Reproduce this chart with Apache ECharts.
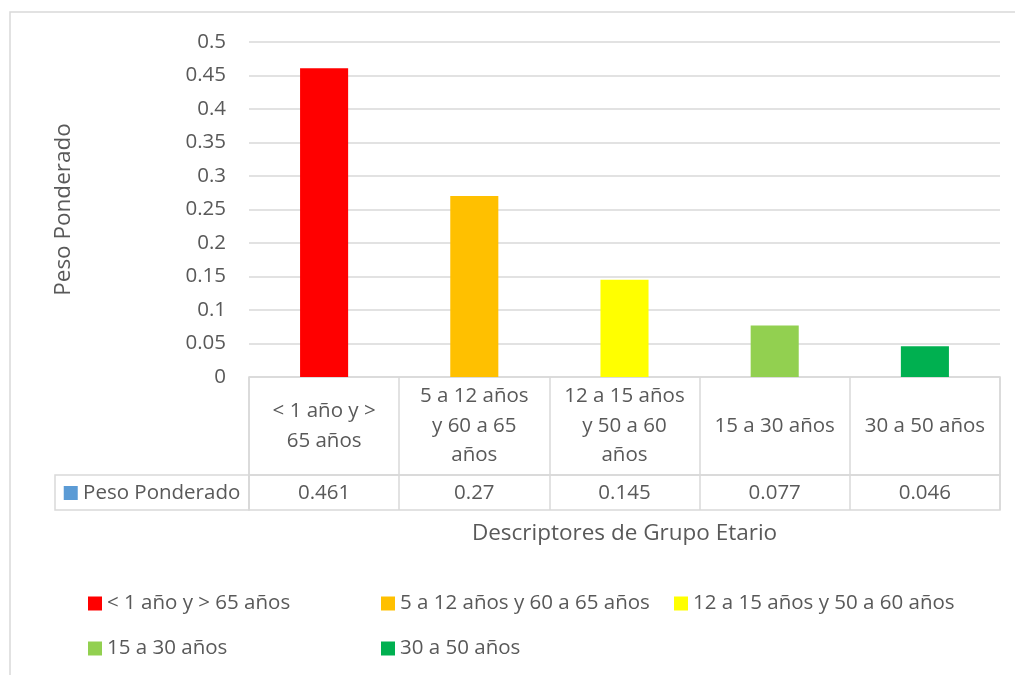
<!DOCTYPE html>
<html>
<head>
<meta charset="utf-8">
<script src="https://cdn.jsdelivr.net/npm/echarts@6/dist/echarts.min.js"></script>
<style>
  html, body { margin: 0; padding: 0; background: #fff; }
  #chart { width: 1015px; height: 675px; }
</style>
</head>
<body>
<div id="chart"></div>
<script>
// datos del grafico
const categorias = ['< 1 año y > 65 años', '5 a 12 años y 60 a 65 años', '12 a 15 años y 50 a 60 años', '15 a 30 años', '30 a 50 años']
const etiquetasTabla = ['< 1 año y >\n65 años', '5 a 12 años\ny 60 a 65\naños', '12 a 15 años\ny 50 a 60\naños', '15 a 30 años', '30 a 50 años']
const pesos = [0.461, 0.27, 0.145, 0.077, 0.046]
const colores = ['#FF0000', '#FFC000', '#FFFF00', '#92D050', '#00B050']
const nombreSerie = 'Peso Ponderado'

const fuente = 'Open Sans'
const gris = '#595959'
const linea = '#d9d9d9'
const tam = 20.5
const tamTitulo = 22.5

const myChart = echarts.init(document.getElementById('chart'))

// una serie por categoria, apiladas, para que la leyenda muestre cada color
const series = categorias.map((nombre, i) => ({
  name: nombre,
  type: 'bar',
  stack: 'total',
  barWidth: '32%',
  itemStyle: { color: colores[i] },
  data: pesos.map((v, j) => (j === i ? v : '-'))
}))

const option = {
  animation: false,
  textStyle: { fontFamily: fuente },
  grid: [
    { left: 249, right: 15, top: 42, bottom: 298 },
    { left: 249, right: 15, top: 377, height: 98, show: true, borderColor: linea, borderWidth: 1.5 },
    { left: 249, right: 15, top: 475, height: 35, show: true, borderColor: linea, borderWidth: 1.5 },
    { left: 55, width: 194, top: 475, height: 35, show: true, borderColor: linea, borderWidth: 1.5 }
  ],
  xAxis: [
    {
      gridIndex: 0,
      type: 'category',
      data: categorias,
      axisLine: { show: false },
      axisTick: { show: false },
      axisLabel: { show: false },
      name: 'Descriptores de Grupo Etario',
      nameLocation: 'middle',
      nameGap: 145,
      nameTextStyle: { color: gris, fontSize: tamTitulo, fontFamily: fuente }
    },
    {
      gridIndex: 1,
      type: 'category',
      data: categorias,
      axisLine: { show: false },
      axisTick: { show: false },
      splitLine: { show: true, interval: 0, lineStyle: { color: linea, width: 1.5 } },
      axisLabel: {
        inside: true,
        interval: 0,
        margin: 49,
        verticalAlign: 'middle',
        lineHeight: 29.5,
        color: gris,
        fontSize: tam,
        fontFamily: fuente,
        formatter: (v, i) => etiquetasTabla[i]
      }
    },
    {
      gridIndex: 2,
      type: 'category',
      data: pesos.map(String),
      axisLine: { show: false },
      axisTick: { show: false },
      splitLine: { show: true, interval: 0, lineStyle: { color: linea, width: 1.5 } },
      axisLabel: {
        inside: true,
        interval: 0,
        margin: 17,
        verticalAlign: 'middle',
        color: gris,
        fontSize: tam,
        fontFamily: fuente
      }
    },
    {
      gridIndex: 3,
      type: 'category',
      data: [nombreSerie],
      axisLine: { show: false },
      axisTick: { show: false },
      axisLabel: {
        inside: true,
        margin: 17,
        verticalAlign: 'middle',
        color: gris,
        fontSize: tam,
        fontFamily: fuente,
        formatter: v => '{box|} ' + v,
        rich: {
          box: { backgroundColor: '#5B9BD5', width: 14, height: 14 }
        }
      }
    }
  ],
  yAxis: [
    {
      gridIndex: 0,
      type: 'value',
      min: 0,
      max: 0.5,
      interval: 0.05,
      axisLine: { show: false },
      axisTick: { show: false },
      splitLine: { lineStyle: { color: linea, width: 1.5 } },
      axisLabel: {
        margin: 23,
        color: gris,
        fontSize: tam,
        fontFamily: fuente,
        formatter: v => String(parseFloat(v.toFixed(2)))
      },
      name: nombreSerie,
      nameLocation: 'middle',
      nameGap: 174,
      nameTextStyle: { color: gris, fontSize: tamTitulo, fontFamily: fuente }
    },
    { gridIndex: 1, type: 'value', show: false, splitLine: { show: false } },
    { gridIndex: 2, type: 'value', show: false, splitLine: { show: false } },
    { gridIndex: 3, type: 'value', show: false, splitLine: { show: false } }
  ],
  legend: {
    data: categorias,
    left: 83,
    top: 579,
    width: 900,
    itemGap: 6,
    itemWidth: 14,
    itemHeight: 14,
    icon: 'rect',
    textStyle: {
      color: gris,
      fontSize: tam,
      fontFamily: fuente,
      width: 268,
      lineHeight: 39,
      overflow: 'none'
    }
  },
  graphic: [
    {
      type: 'rect',
      silent: true,
      shape: { x: 10, y: 12, width: 1100, height: 800 },
      style: { fill: 'none', stroke: linea, lineWidth: 1.5 }
    }
  ],
  series: series
}

myChart.setOption(option)
</script>
</body>
</html>
